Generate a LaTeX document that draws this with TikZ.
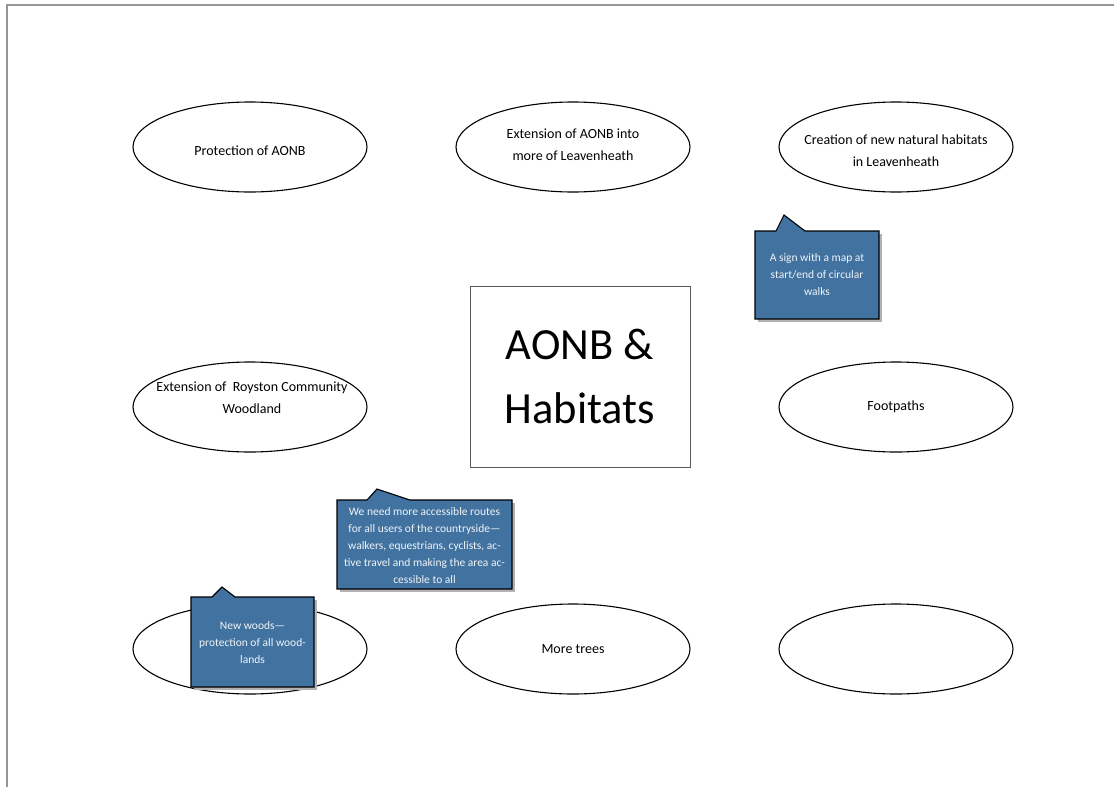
\documentclass[tikz,border=0pt]{standalone}
\usepackage{fontspec}
\setmainfont{Carlito}
\usetikzlibrary{shapes.geometric}
\definecolor{callblue}{RGB}{66,114,160}
\definecolor{framegray}{RGB}{150,150,150}
\definecolor{boxgray}{RGB}{90,90,90}
\tikzset{
  idea/.style={draw=black, line width=1.1pt, ellipse, minimum width=234pt, minimum height=90pt, inner sep=0pt},
  ideatext/.style={align=center, inner sep=0pt, font=\fontsize{14}{22}\selectfont},
  calltext/.style={text=white!92!callblue, align=center, font=\fontsize{11.5}{17}\selectfont},
  callshape/.style={fill=callblue, draw=black, line width=1.1pt, line join=miter},
  callshadow/.style={fill=black!30, draw=none},
}
\newcommand{\callout}[8]{% x1,y1,x2,y2,tabL,apexx,apexy,tabR
  \fill[callshadow] (#1+3,#2+3) -- (#1+3,#4+3) -- (#3+3,#4+3) -- (#3+3,#2+3) -- cycle;
  \draw[callshape] (#1,#2) -- (#5,#2) -- (#6,#7) -- (#8,#2) -- (#3,#2) -- (#3,#4) -- (#1,#4) -- cycle;
}
\begin{document}
\begin{tikzpicture}[x=1pt,y=-1pt]
\useasboundingbox (0,0) rectangle (1114,787);
\fill[white] (0,0) rectangle (1114,787);
% page frame
\draw[framegray, line width=2pt] (7,787) -- (7,5) -- (1114,5);

% ideas
\node[idea] (p1) at (250,147) {};
\node[idea] (p2) at (573,147) {};
\node[idea] (p3) at (896,147) {};
\node[idea] (p4) at (250,407) {};
\node[idea] (p5) at (896,407) {};
\node[idea] (p6) at (250,649) {};
\node[idea] (p7) at (573,649) {};
\node[idea] (p8) at (896,649) {};
\node[ideatext] (t1) at (250,151) {Protection of AONB};
\node[ideatext] (t2) at (573,145) {Extension of AONB into\\more of Leavenheath};
\node[ideatext] (t3) at (896,151) {Creation of new natural habitats\\in Leavenheath};
\node[ideatext] (t4) at (252,397.5) {Extension of\ \ Royston Community\\Woodland};
\node[ideatext] (t5) at (896,407) {Footpaths};
\node[ideatext] (t7) at (573,649) {More trees};

% centre
\node[draw=boxgray, line width=1pt, minimum width=220pt, minimum height=181pt, inner sep=0pt, align=center, font=\fontsize{44.5}{64}\selectfont] (c) at (580,376.5) {AONB \&\\Habitats};

% callouts
\callout{755}{231}{879}{319}{776}{784}{215}{805}
\node[calltext] (n1) at (817,275) {A sign with a map at\\start/end of circular\\walks};

\callout{337}{500}{512}{589}{367}{377}{489}{410}
\node[calltext] (n2) at (424.5,545.5) {We need more accessible routes\\for all users of the countryside---\\walkers, equestrians, cyclists, ac-\\tive travel and making the area ac-\\cessible to all};

\callout{191}{597}{314}{687}{212}{222}{587}{235}
\node[calltext] (n3) at (252.5,643) {New woods---\\protection of all wood-\\lands};
\end{tikzpicture}
\end{document}
